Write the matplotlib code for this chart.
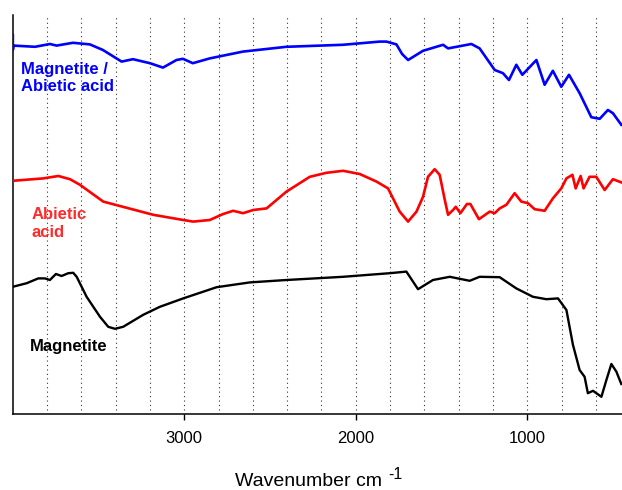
import matplotlib
matplotlib.use("Agg")
import matplotlib.pyplot as plt

plt.rcParams["font.family"] = ["Liberation Sans", "DejaVu Sans"]

# FTIR spectra (wavenumber in cm^-1, transmittance in arbitrary offset units)
wn_composite = [3999, 3999, 3995, 3870, 3783, 3744, 3649, 3550, 3474, 3365, 3299,
                3200, 3124, 3045, 3008, 2950, 2851, 2658, 2404, 2076, 1860, 1821,
                1763, 1730, 1695, 1608, 1491, 1462, 1326, 1278, 1190, 1142, 1107,
                1064, 1029, 947, 899, 851, 802, 757, 695, 627, 578, 530, 501, 452]
t_composite = [94.7, 91.0, 92.1, 91.8, 92.5, 92.1, 92.8, 92.4, 91.0, 88.1, 88.7,
               87.7, 86.6, 88.5, 88.8, 87.7, 88.9, 90.6, 91.8, 92.3, 93.1, 93.1,
               92.4, 90.0, 88.5, 90.8, 92.3, 91.4, 92.5, 91.4, 86.0, 85.2, 83.5,
               87.3, 84.8, 88.5, 82.3, 85.8, 81.8, 84.8, 80.2, 74.2, 73.8, 76.0,
               75.2, 72.3]

wn_abietic = [4000, 3822, 3734, 3666, 3608, 3472, 3375, 3181, 3006, 2948, 2851,
              2773, 2715, 2657, 2598, 2520, 2404, 2268, 2171, 2074, 1977, 1879,
              1812, 1744, 1695, 1646, 1608, 1579, 1540, 1511, 1481, 1462, 1433,
              1417, 1390, 1352, 1332, 1282, 1219, 1190, 1161, 1122, 1074, 1035,
              996, 957, 899, 851, 802, 772, 737, 718, 689, 672, 637, 598, 549,
              501, 452]
t_abietic = [58.3, 58.9, 59.5, 58.7, 57.3, 53.1, 52.0, 49.8, 48.5, 48.1, 48.5,
             50.0, 50.8, 50.2, 51.0, 51.4, 55.6, 59.3, 60.3, 60.8, 60.0, 58.1,
             56.4, 50.6, 48.1, 50.6, 54.3, 59.3, 61.2, 59.8, 53.5, 49.8, 51.0,
             51.8, 50.2, 52.5, 52.5, 48.7, 50.6, 50.2, 51.4, 52.3, 55.2, 53.1,
             52.7, 51.2, 50.8, 53.9, 56.4, 58.9, 59.8, 56.4, 59.5, 56.4, 59.3,
             59.3, 56.0, 58.7, 57.9]

wn_magnetite = [4000, 3918, 3851, 3812, 3783, 3748, 3715, 3676, 3647, 3627, 3569,
                3491, 3443, 3404, 3356, 3239, 3142, 3006, 2811, 2617, 2404, 2074,
                1802, 1705, 1637, 1550, 1452, 1336, 1278, 1161, 1064, 967, 889,
                821, 772, 734, 695, 666, 647, 617, 568, 539, 510, 481, 452]
t_magnetite = [31.8, 32.7, 33.9, 33.9, 33.5, 35.0, 34.5, 35.2, 35.3, 34.3, 29.3,
               24.3, 21.8, 21.3, 21.8, 24.8, 26.8, 28.9, 31.7, 32.9, 33.5, 34.3,
               35.2, 35.6, 31.2, 33.5, 34.3, 33.3, 34.3, 34.2, 31.4, 29.3, 28.7,
               28.9, 26.0, 17.3, 11.0, 9.3, 5.2, 5.8, 4.3, 8.5, 12.5, 10.6, 7.5]

grid_positions = list(range(3800, 500, -200))
tick_positions = [3000, 2000, 1000]
tick_labels = ["3000", "2000", "1000"]

fig = plt.figure(figsize=(6.22, 4.90), dpi=100)
ax = fig.add_axes([0.0204, 0.1551, 0.9796, 0.8143])

ax.set_xlim(4000, 448)
ax.set_ylim(0, 99.75)

ax.vlines(grid_positions, 1.0, 99.75, colors="#333333", linewidth=0.8,
          linestyles=(0, (1, 3)), zorder=1)

ax.plot(wn_composite, t_composite, color="#0000ff", lw=1.9, zorder=3)
ax.plot(wn_abietic, t_abietic, color="#ff0000", lw=1.9, zorder=3)
ax.plot(wn_magnetite, t_magnetite, color="black", lw=1.7, zorder=3)

ax.text(3953, 84.0, "Magnetite /\nAbietic acid", color="#0000ff",
        fontsize=12, fontweight="bold", ha="left", va="center", linespacing=1.15)
ax.text(3889, 47.6, "Abietic\nacid", color="#ff2a2a",
        fontsize=12, fontweight="bold", ha="left", va="center", linespacing=1.3)
ax.text(3899, 16.8, "Magnetite", color="black",
        fontsize=12, fontweight="bold", ha="left", va="center")

ax.set_xticks(tick_positions)
ax.set_xticklabels(tick_labels, fontsize=12)
ax.tick_params(axis="x", direction="out", length=4.5, width=1.0, pad=7.5)
ax.set_yticks([])

for side in ("top", "right"):
    ax.spines[side].set_visible(False)
for side in ("left", "bottom"):
    ax.spines[side].set_linewidth(1.1)

fig.text(235 / 622, 1 - 486 / 490, "Wavenumber cm", fontsize=14,
         ha="left", va="baseline")
fig.text(388 / 622, 1 - 479 / 490, "-1", fontsize=11.5,
         ha="left", va="baseline")

fig.savefig("out.png", dpi=100)
